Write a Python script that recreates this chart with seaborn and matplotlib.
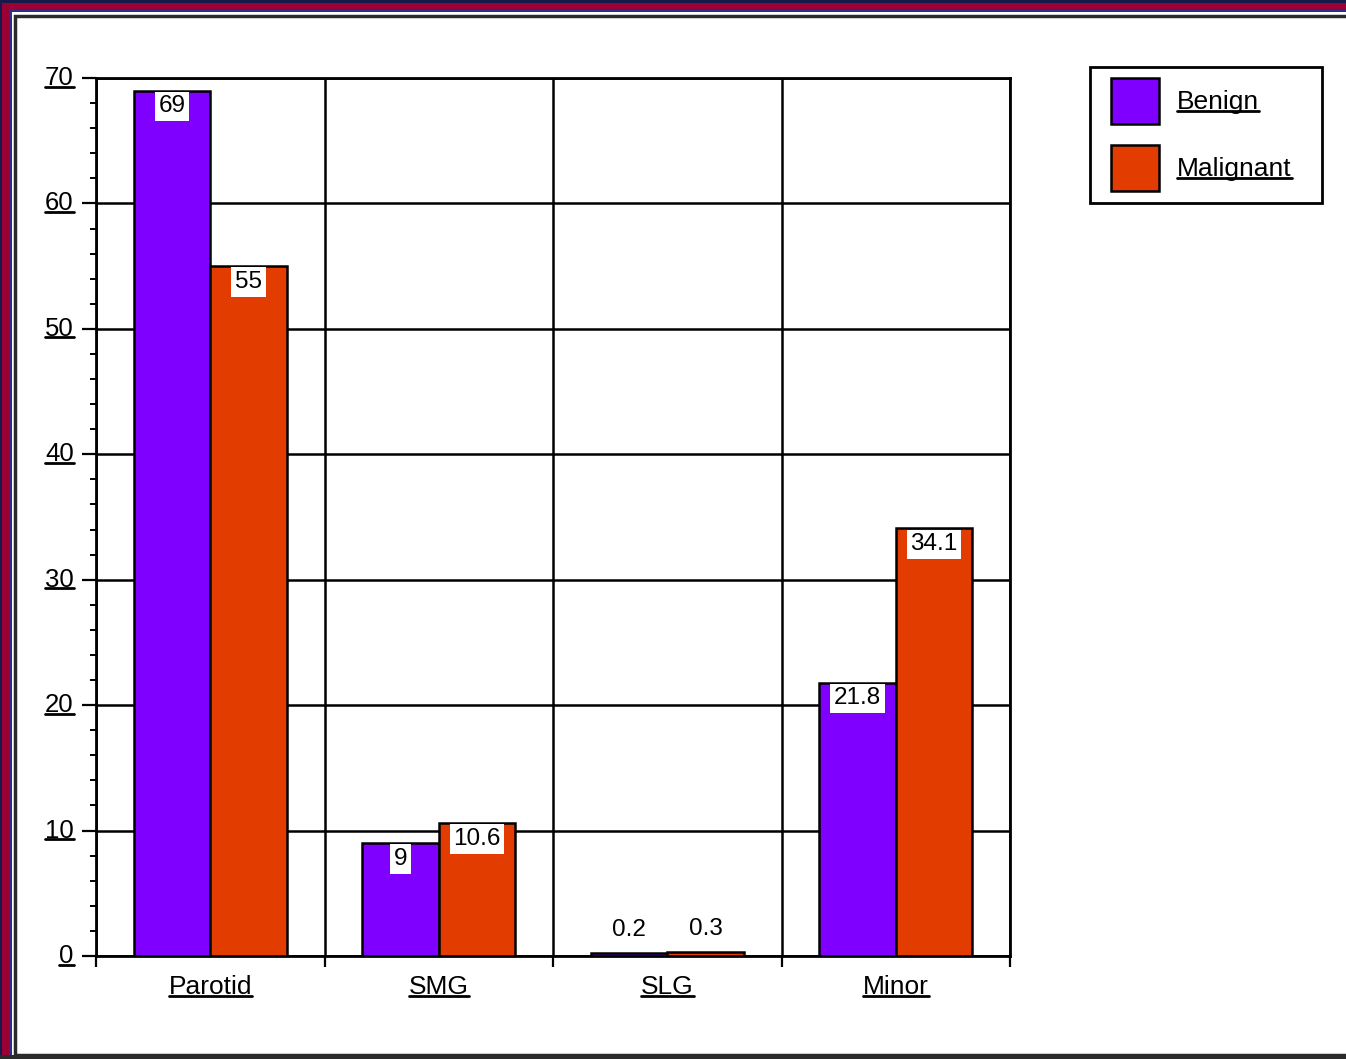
import pandas as pd
import seaborn as sns
import matplotlib.pyplot as plt
import matplotlib.transforms as mtransforms
from matplotlib.patches import Rectangle, Patch
from matplotlib.lines import Line2D

# -------------------------------
# Data (percent of tumours by site)
# -------------------------------
sites = ["Parotid", "SMG", "SLG", "Minor"]
benign = [69, 9, 0.2, 21.8]
malignant = [55, 10.6, 0.3, 34.1]
y_ticks = [0, 10, 20, 30, 40, 50, 60, 70]

df = pd.DataFrame({
    "Site": sites * 2,
    "Percent": benign + malignant,
    "Type": ["Benign"] * len(sites) + ["Malignant"] * len(sites),
})

purple = "#8000ff"
orange = "#e23c00"

sns.set_style("white")
plt.rcParams["font.family"] = ["Liberation Sans", "DejaVu Sans"]
plt.rcParams["text.color"] = "black"
plt.rcParams["xtick.color"] = "black"
plt.rcParams["ytick.color"] = "black"

W, H = 1346, 1059
fig = plt.figure(figsize=(W / 100, H / 100), dpi=100)
fig.patch.set_facecolor("#161a4a")


def px_rect(x0, y0, x1, y1, z=-10, **kw):
    # rectangle in pixel coords measured from the top-left corner
    fig.patches.append(Rectangle((x0 / W, 1 - y1 / H), (x1 - x0) / W, (y1 - y0) / H,
                                 transform=fig.transFigure, figure=fig, zorder=z, **kw))


# outer frame
px_rect(2, 3, W + 10, H + 10, facecolor="#9b0034", edgecolor="none")
px_rect(9, 10, W + 10, H + 10, facecolor="#2a2f8a", edgecolor="none")
px_rect(12, 12, W + 10, H + 10, facecolor="white", edgecolor="none")
px_rect(15, 16, W + 10, 1055, facecolor="white", edgecolor="#2b2b2b", linewidth=2.5)
px_rect(0, 1055, W + 10, H + 10, facecolor="#2b2b2b", edgecolor="none")

ax = fig.add_axes([96 / W, 1 - 956 / H, (1010 - 96) / W, (956 - 78) / H])
ax.patch.set_alpha(0)

sns.barplot(data=df, x="Site", y="Percent", hue="Type",
            palette=[purple, orange], saturation=1, width=0.67,
            edgecolor="black", linewidth=1.8, ax=ax, legend=False, zorder=3)

ax.set_xlim(-0.5, 3.5)
ax.set_ylim(0, 70)
ax.set_xlabel("")
ax.set_ylabel("")

ax.set_yticks(y_ticks)
ax.set_yticklabels([str(t) for t in y_ticks], fontsize=18.5, va="center")
ax.set_yticks(range(0, 71, 2), minor=True)
ax.set_xticks(range(len(sites)))
ax.set_xticklabels(sites, fontsize=19)
ax.set_xticks([-0.5, 0.5, 1.5, 2.5, 3.5], minor=True)

# nudge y labels a little above their ticks, like the original
shift = mtransforms.ScaledTranslation(0, 4 / 100, fig.dpi_scale_trans)
for lab in ax.get_yticklabels():
    lab.set_transform(lab.get_transform() + shift)

ax.tick_params(axis="y", which="major", direction="out", length=10, width=1.6,
               color="black", pad=6, left=True)
ax.tick_params(axis="y", which="minor", direction="out", length=4.5, width=1.4,
               color="black", left=True)
ax.tick_params(axis="x", which="major", length=0, pad=14)
ax.tick_params(axis="x", which="minor", direction="out", length=8, width=1.6,
               color="black", bottom=True)

ax.set_axisbelow(True)
ax.grid(True, axis="y", which="major", color="black", linewidth=1.8)
ax.grid(True, axis="x", which="minor", color="black", linewidth=1.8)
for sp in ax.spines.values():
    sp.set_visible(True)
    sp.set_color("black")
    sp.set_linewidth(2)

# value labels
for cont in ax.containers:
    for bar in cont:
        v = bar.get_height()
        x = bar.get_x() + bar.get_width() / 2
        if v < 3:
            ax.annotate(f"{v:g}", (x, v), xytext=(0, 9), textcoords="offset points",
                        ha="center", va="bottom", fontsize=17.5, zorder=5)
        else:
            ax.annotate(f"{v:g}", (x, v), xytext=(0, -3.5), textcoords="offset points",
                        ha="center", va="top", fontsize=17.5, zorder=5,
                        bbox=dict(boxstyle="square,pad=0.15", facecolor="white",
                                  edgecolor="none"))

# legend: frame drawn separately to get the original's padding
px_rect(1090, 67, 1322, 203, z=5, facecolor="white", edgecolor="black", linewidth=2)
handles = [Patch(facecolor=purple, edgecolor="black", linewidth=1.8),
           Patch(facecolor=orange, edgecolor="black", linewidth=1.8)]
leg = fig.legend(handles, ["Benign", "Malignant"],
                 loc="upper left", bbox_to_anchor=(1111 / W, 1 - 78 / H),
                 borderaxespad=0, fontsize=19, handlelength=1.8, handleheight=2.3,
                 handletextpad=0.7, labelspacing=0.8, borderpad=0,
                 frameon=False)
leg.set_zorder(6)

# underline tick labels and legend texts (old-style chart look)
fig.canvas.draw()
renderer = fig.canvas.get_renderer()
texts = list(ax.get_yticklabels()) + list(ax.get_xticklabels()) + list(leg.get_texts())
for t in texts:
    bb = t.get_window_extent(renderer)
    yline = bb.y0 + 3.5
    fig.add_artist(Line2D([bb.x0 / W, bb.x1 / W], [yline / H, yline / H],
                          transform=fig.transFigure, color="black", linewidth=2,
                          zorder=7))

plt.savefig("out.png", dpi=100, facecolor=fig.get_facecolor())
